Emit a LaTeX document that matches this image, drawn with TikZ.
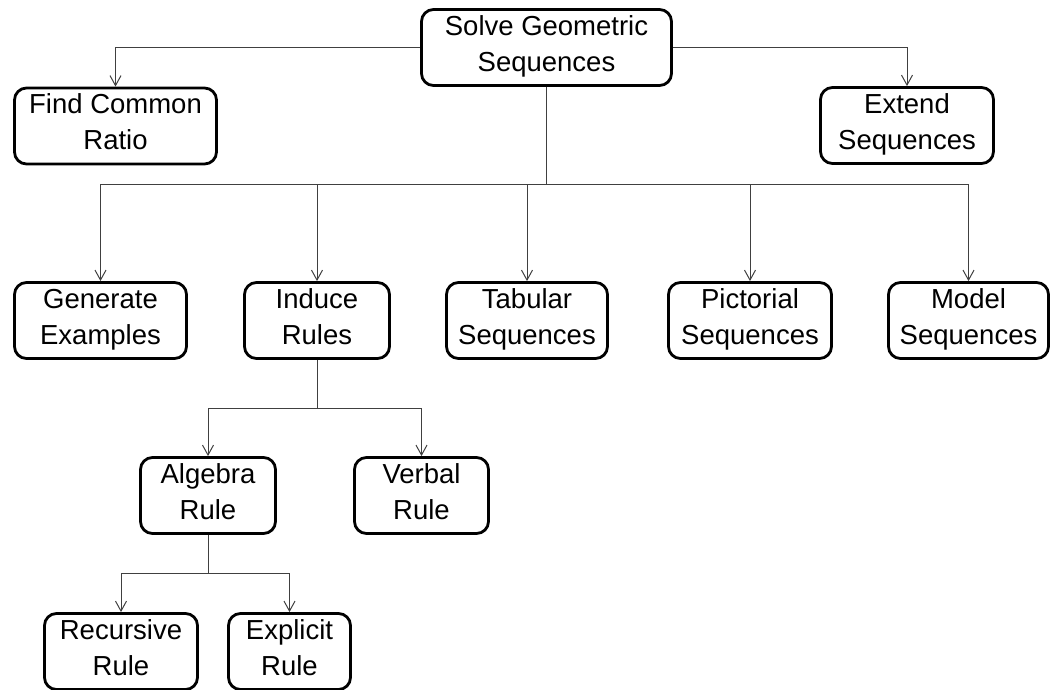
\documentclass[tikz,border=0pt]{standalone}
\usepackage{fontspec}
\setmainfont{Liberation Sans}
\usetikzlibrary{arrows.meta}
\definecolor{linegray}{RGB}{64,64,64}
\newcommand{\mapnode}[5]{%
  \node[mapbox,minimum width=#4] (#1) at (#2,#3) {#5};
}
\tikzset{
  mapbox/.style={draw,line width=2.8pt,rounded corners=12pt,align=center,
    minimum height=76pt,inner sep=0pt,font=\fontsize{27.5}{36}\selectfont,
    execute at begin node={\rule{0pt}{27pt}},
    execute at end node={\rule[-8pt]{0pt}{8pt}}},
  mapline/.style={draw=linegray,line width=1pt},
  maparrow/.style={mapline,-{Straight Barb[length=10pt,width=11pt]}}
}

\begin{document}
\begin{tikzpicture}[x=1pt,y=-1pt]
  \useasboundingbox (0,0) rectangle (1051,689);
  \mapnode{solve}{546.5}{47.5}{250pt}{Solve Geometric\\Sequences}
  \mapnode{ratio}{115.5}{126}{202pt}{Find Common\\Ratio}
  \mapnode{extend}{907}{125.5}{173pt}{Extend\\Sequences}
  \mapnode{generate}{100.5}{320.5}{172pt}{Generate\\Examples}
  \mapnode{induce}{317}{320.5}{145pt}{Induce\\Rules}
  \mapnode{tabular}{527}{320.5}{161pt}{Tabular\\Sequences}
  \mapnode{pictorial}{750}{320.5}{163pt}{Pictorial\\Sequences}
  \mapnode{model}{968.5}{320.5}{160pt}{Model\\Sequences}
  \mapnode{algebra}{208}{495.5}{135pt}{Algebra\\Rule}
  \mapnode{verbal}{421.5}{495.5}{134pt}{Verbal\\Rule}
  \mapnode{recursive}{121}{651.5}{153pt}{Recursive\\Rule}
  \mapnode{explicit}{289.5}{651.5}{122pt}{Explicit\\Rule}
  % connectors
  \draw[maparrow] (solve.west) -| (ratio.north);
  \draw[maparrow] (solve.east) -| (extend.north);
  \coordinate (bus1) at (546.5,184);
  \draw[mapline] (solve.south) -- (bus1);
  \foreach \n in {generate,induce,tabular,pictorial,model}
    \draw[maparrow] (bus1) -| (\n.north);
  \coordinate (bus2) at (317,408);
  \draw[mapline] (induce.south) -- (bus2);
  \foreach \n in {algebra,verbal}
    \draw[maparrow] (bus2) -| (\n.north);
  \coordinate (bus3) at (208,573);
  \draw[mapline] (algebra.south) -- (bus3);
  \foreach \n in {recursive,explicit}
    \draw[maparrow] (bus3) -| (\n.north);
\end{tikzpicture}
\end{document}
